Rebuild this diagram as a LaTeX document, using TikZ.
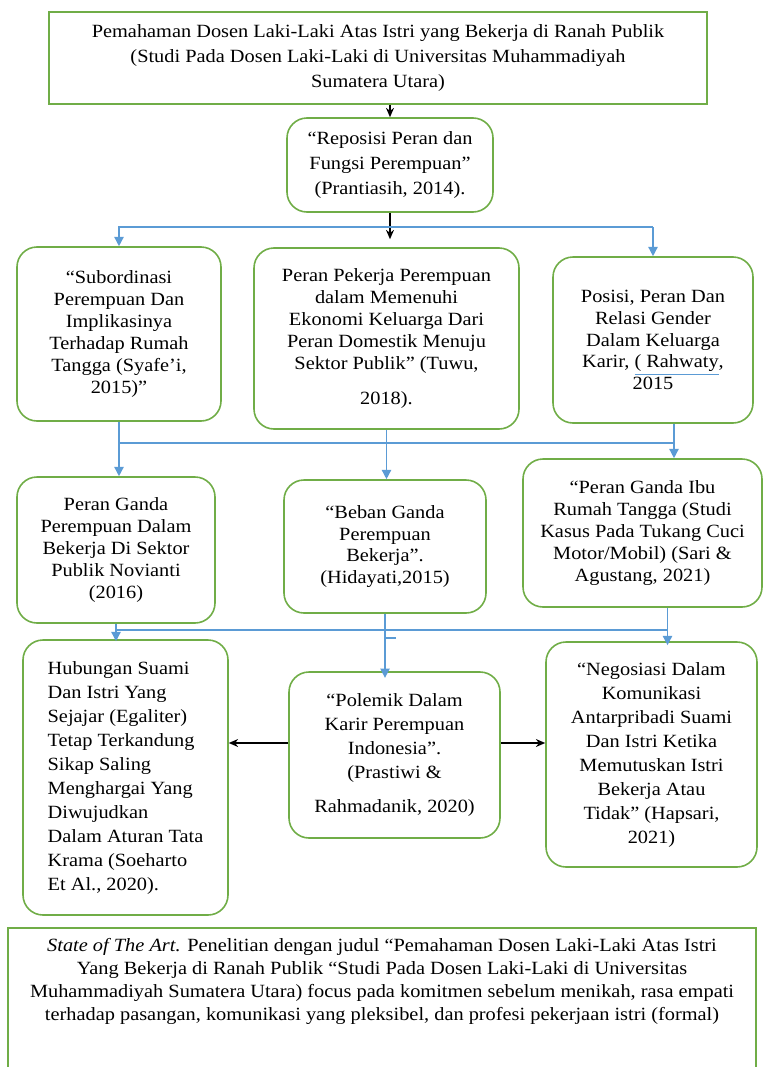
\documentclass[tikz,border=0pt]{standalone}
\usepackage{fontspec}
\setmainfont{Liberation Serif}[FakeStretch=1.09]
\usetikzlibrary{arrows.meta}

\definecolor{boxgreen}{RGB}{112,173,71}
\definecolor{linkblue}{RGB}{91,155,213}

\tikzstyle{sharpbox}=[draw=boxgreen,line width=1.2pt,align=center,inner sep=2pt]
\tikzstyle{roundbox}=[draw=boxgreen,line width=1.2pt,rounded corners=15pt,align=center,inner sep=2pt]
\tikzstyle{bluelink}=[draw=linkblue,line width=1.1pt]
\tikzstyle{bluearrow}=[bluelink,-{Triangle[length=7pt,width=7pt]}]
\tikzstyle{blackarrow}=[line width=0.9pt,-{Stealth[length=7pt,width=6pt]}]

\newcommand{\bigtext}{\fontsize{14}{18.75}\selectfont}
\newcommand{\midtext}{\fontsize{14}{16.4}\selectfont}
\newcommand{\lowtext}{\fontsize{14}{18}\selectfont}
\newcommand{\basetext}{\fontsize{14}{17.25}\selectfont}

\begin{document}
\begin{tikzpicture}[x=0.75pt,y=-0.75pt]
\useasboundingbox (0,0) rectangle (765,1067);
\clip (0,0) rectangle (765,1067);

% title and first source
\node [sharpbox,minimum width=493.5pt,minimum height=69pt,font=\bigtext] (title) at (378,58)
  {Pemahaman Dosen Laki-Laki Atas Istri yang Bekerja di Ranah Publik\\(Studi Pada Dosen Laki-Laki di Universitas Muhammadiyah\\Sumatera Utara)};
\node [roundbox,minimum width=154.5pt,minimum height=70.5pt,font=\bigtext] (reposisi) at (390,165)
  {“Reposisi Peran dan\\Fungsi Perempuan”\\(Prantiasih, 2014).};

% second row
\node [roundbox,minimum width=153pt,minimum height=130.5pt,font=\midtext] (subordinasi) at (119,334)
  {“Subordinasi\\Perempuan Dan\\Implikasinya\\Terhadap Rumah\\Tangga (Syafe’i,\\2015)”};
\node [roundbox,minimum width=198.75pt,minimum height=135.75pt,font=\midtext] (pekerja) at (386.5,338.5)
  {Peran Pekerja Perempuan\\dalam Memenuhi\\Ekonomi Keluarga Dari\\Peran Domestik Menuju\\Sektor Publik” (Tuwu,\\[10pt]2018).};
\node [roundbox,minimum width=150pt,minimum height=124.5pt,font=\midtext] (relasi) at (653,340)
  {Posisi, Peran Dan\\Relasi Gender\\Dalam Keluarga\\Karir, {\color{linkblue}\underline{\color{black}( Rahwaty}},\\2015};

% third row
\node [roundbox,minimum width=148.5pt,minimum height=109.5pt,font=\midtext] (gandaPublik) at (116,550)
  {Peran Ganda\\Perempuan Dalam\\Bekerja Di Sektor\\Publik Novianti\\(2016)};
\node [roundbox,minimum width=151.5pt,minimum height=99.75pt,font=\midtext] (beban) at (385,546.5)
  {“Beban Ganda\\Perempuan\\Bekerja”.\\(Hidayati,2015)};
\node [roundbox,minimum width=179.25pt,minimum height=111pt,font=\midtext] (ibuRT) at (642.5,533)
  {“Peran Ganda Ibu\\Rumah Tangga (Studi\\Kasus Pada Tukang Cuci\\Motor/Mobil) (Sari \&\\Agustang, 2021)};

% fourth row
\node [roundbox,minimum width=153.75pt,minimum height=206.25pt,font=\lowtext,align=left] (egaliter) at (125.5,777.5)
  {Hubungan Suami\\Dan Istri Yang\\Sejajar (Egaliter)\\Tetap Terkandung\\Sikap Saling\\Menghargai Yang\\Diwujudkan\\Dalam Aturan Tata\\Krama (Soeharto\\Et Al., 2020).};
\node [roundbox,minimum width=158.25pt,minimum height=124.5pt,font=\lowtext] (polemik) at (394.5,755)
  {“Polemik Dalam\\Karir Perempuan\\Indonesia”.\\(Prastiwi \&\\[8pt]Rahmadanik, 2020)};
\node [roundbox,minimum width=158.25pt,minimum height=168.75pt,font=\lowtext] (negosiasi) at (651.5,754.5)
  {“Negosiasi Dalam\\Komunikasi\\Antarpribadi Suami\\Dan Istri Ketika\\Memutuskan Istri\\Bekerja Atau\\Tidak” (Hapsari,\\2021)};

% state of the art, runs off the page
\node [sharpbox,anchor=north,minimum width=561pt,font=\basetext,inner sep=8pt] (stateArt) at (382,927)
  {\textit{State of The Art.} Penelitian dengan judul “Pemahaman Dosen Laki-Laki Atas Istri\\Yang Bekerja di Ranah Publik “Studi Pada Dosen Laki-Laki di Universitas\\Muhammadiyah Sumatera Utara) focus pada komitmen sebelum menikah, rasa empati\\terhadap pasangan, komunikasi yang pleksibel, dan profesi pekerjaan istri (formal)\\[80pt]~};

\coordinate (busA) at (0,227);
\coordinate (busB) at (0,443);
\coordinate (busC) at (0,630);
\coordinate (relasiX) at ([xshift=15.75pt]relasi.south);
\coordinate (ibuX) at ([xshift=18.75pt]ibuRT.south);

% black arrows
\draw[blackarrow] (reposisi.north |- title.south) -- (reposisi.north);
\draw[blackarrow] (reposisi.south) -- ([yshift=6pt]reposisi.south |- pekerja.north);

% blue links
\draw[bluearrow] (busA -| relasi.north) -- (busA -| subordinasi.north) -- (subordinasi.north);
\draw[bluearrow] (busA -| relasi.north) -- (relasi.north);

\draw[bluelink] (subordinasi.south) -- (subordinasi.south |- busB) -- (busB -| relasiX) -- (relasiX);
\draw[bluearrow] (subordinasi.south |- busB) -- (subordinasi.south |- gandaPublik.north);
\draw[bluearrow] (pekerja.south) -- (pekerja.south |- beban.north);
\draw[bluearrow] (relasiX) -- (relasiX |- ibuRT.north);

\draw[bluelink] (gandaPublik.south) -- (gandaPublik.south |- busC) -- (busC -| ibuX) -- (ibuX);
\draw[bluearrow] (gandaPublik.south |- busC) -- ([yshift=-1.5pt]gandaPublik.south |- egaliter.north);
\draw[bluearrow] (ibuX) -- ([yshift=-3pt]ibuX |- negosiasi.north);
\draw[bluearrow] (beban.south) -- ([yshift=-5pt]beban.south |- polemik.north);
\draw[bluelink] ([yshift=-6pt]beban.south |- busC) -- ++(11,0);

\draw[blackarrow] ([yshift=9pt]polemik.west) -- ([yshift=9pt]polemik.west -| egaliter.east);
\draw[blackarrow] ([yshift=9pt]polemik.east) -- ([yshift=9pt]polemik.east -| negosiasi.west);

\end{tikzpicture}
\end{document}
